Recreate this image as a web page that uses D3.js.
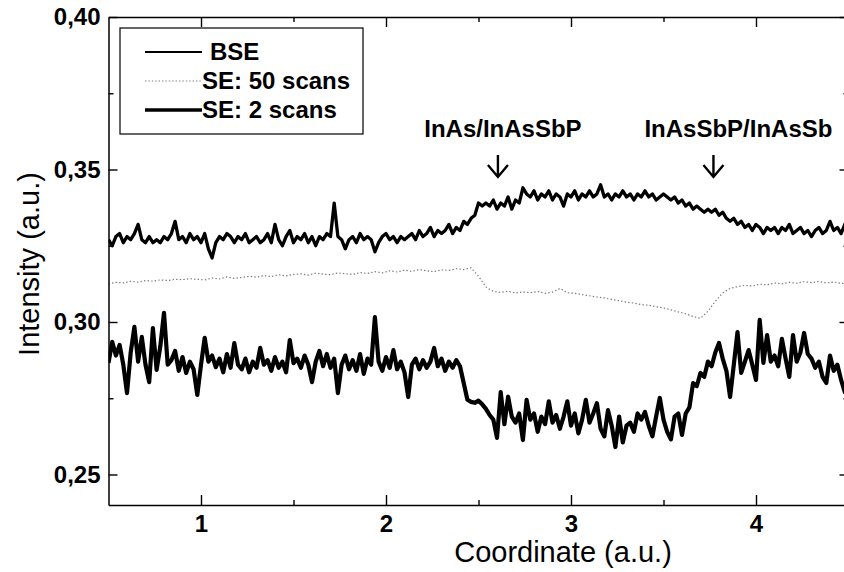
<!DOCTYPE html>
<html>
<head>
<meta charset="utf-8">
<script src="https://cdn.jsdelivr.net/npm/d3@7"></script>
<style>
  html, body { margin: 0; padding: 0; background: #fff; }
  svg { display: block; }
</style>
</head>
<body>
<svg id="chart" width="844" height="572"></svg>
<script>
// Line-scan profiles across the heterostructure (intensity vs coordinate)
// BSE and "SE: 2 scans" sampled every 0.02 a.u.; "SE: 50 scans" every 0.04 a.u.
const coordStart = 0.5;
const fineStep = 0.02;
const coarseStep = 0.04;

const bse = [
  0.327,0.325,0.328,0.329,0.326,0.328,0.327,0.329,0.332,0.327,0.326,
  0.328,0.326,0.327,0.326,0.328,0.327,0.329,0.333,0.327,0.328,
  0.326,0.329,0.327,0.328,0.326,0.329,0.324,0.321,0.326,0.328,
  0.327,0.329,0.328,0.326,0.328,0.327,0.329,0.326,0.327,0.328,
  0.326,0.327,0.329,0.326,0.332,0.327,0.325,0.328,0.330,0.326,
  0.328,0.327,0.329,0.326,0.328,0.325,0.328,0.327,0.329,0.328,
  0.339,0.328,0.327,0.324,0.327,0.328,0.326,0.329,0.327,0.328,
  0.327,0.323,0.326,0.328,0.329,0.327,0.328,0.326,0.328,0.327,
  0.328,0.329,0.327,0.330,0.328,0.329,0.331,0.328,0.330,0.329,
  0.330,0.332,0.329,0.331,0.330,0.333,0.332,0.334,0.335,0.339,
  0.338,0.339,0.338,0.340,0.337,0.339,0.338,0.341,0.337,0.340,
  0.339,0.344,0.342,0.341,0.343,0.340,0.342,0.341,0.343,0.340,
  0.342,0.341,0.338,0.342,0.341,0.343,0.340,0.342,0.341,0.343,
  0.341,0.342,0.345,0.341,0.342,0.340,0.342,0.341,0.343,0.341,
  0.342,0.340,0.342,0.341,0.343,0.341,0.342,0.340,0.341,0.342,
  0.341,0.340,0.341,0.339,0.340,0.338,0.339,0.337,0.338,0.337,
  0.336,0.337,0.336,0.337,0.335,0.336,0.334,0.333,0.334,0.332,
  0.333,0.331,0.332,0.330,0.332,0.331,0.329,0.331,0.330,0.331,
  0.329,0.331,0.330,0.332,0.329,0.330,0.331,0.329,0.330,0.328,
  0.330,0.331,0.329,0.330,0.333,0.330,0.331,0.329,0.332,0.331
];

const se50 = [
  0.3125,0.3130,0.3128,0.3133,0.3131,0.3136,0.3134,0.3138,0.3136,0.3140,
  0.3139,0.3142,0.3140,0.3138,0.3144,0.3141,0.3148,0.3143,0.3146,0.3150,
  0.3147,0.3152,0.3149,0.3155,0.3151,0.3156,0.3158,0.3154,0.3160,0.3157,
  0.3155,0.3161,0.3158,0.3156,0.3162,0.3159,0.3165,0.3161,0.3168,0.3164,
  0.3170,0.3166,0.3172,0.3168,0.3165,0.3171,0.3169,0.3175,0.3172,0.3178,
  0.3150,0.3115,0.3100,0.3097,0.3101,0.3095,0.3099,0.3096,0.3100,0.3094,
  0.3098,0.3110,0.3096,0.3094,0.3090,0.3086,0.3082,0.3079,0.3074,0.3070,
  0.3065,0.3062,0.3057,0.3055,0.3050,0.3046,0.3040,0.3033,0.3027,0.3018,
  0.3012,0.3035,0.3068,0.3095,0.3110,0.3116,0.3120,0.3118,0.3124,0.3122,
  0.3128,0.3125,0.3130,0.3127,0.3132,0.3129,0.3133,0.3128,0.3131,0.3127,0.3126
];

const se2 = [
  0.2866,0.2935,0.2890,0.2925,0.2860,0.2767,0.2900,0.2984,0.2870,0.2951,0.2860,
  0.2803,0.2980,0.2843,0.2920,0.3030,0.2860,0.2875,0.2905,0.2840,0.2885,
  0.2833,0.2870,0.2845,0.2761,0.2860,0.2948,0.2870,0.2890,0.2852,0.2880,
  0.2835,0.2895,0.2850,0.2931,0.2860,0.2845,0.2880,0.2835,0.2870,0.2850,
  0.2915,0.2860,0.2875,0.2840,0.2885,0.2850,0.2870,0.2835,0.2941,0.2865,
  0.2880,0.2850,0.2890,0.2860,0.2803,0.2870,0.2905,0.2855,0.2895,0.2850,
  0.2880,0.2767,0.2860,0.2890,0.2845,0.2875,0.2840,0.2895,0.2830,0.2880,
  0.2860,0.3016,0.2870,0.2840,0.2885,0.2850,0.2908,0.2845,0.2870,0.2835,
  0.2754,0.2860,0.2880,0.2845,0.2875,0.2850,0.2870,0.2915,0.2855,0.2880,
  0.2840,0.2870,0.2850,0.2875,0.2855,0.2800,0.2745,0.2738,0.2735,0.2742,
  0.2730,0.2715,0.2695,0.2680,0.2620,0.2770,0.2665,0.2755,0.2690,0.2670,
  0.2700,0.2613,0.2745,0.2680,0.2700,0.2640,0.2690,0.2665,0.2740,0.2670,
  0.2695,0.2650,0.2690,0.2740,0.2660,0.2700,0.2635,0.2680,0.2745,0.2670,
  0.2700,0.2734,0.2650,0.2625,0.2711,0.2660,0.2590,0.2690,0.2605,0.2660,
  0.2670,0.2640,0.2700,0.2680,0.2705,0.2660,0.2625,0.2690,0.2751,0.2680,
  0.2640,0.2615,0.2690,0.2700,0.2630,0.2700,0.2720,0.2800,0.2790,0.2833,
  0.2820,0.2870,0.2855,0.2900,0.2931,0.2880,0.2840,0.2754,0.2860,0.2967,
  0.2833,0.2870,0.2908,0.2860,0.2810,0.3007,0.2866,0.2957,0.2870,0.2890,
  0.2855,0.2945,0.2880,0.2820,0.2957,0.2870,0.2900,0.2964,0.2895,0.2880,
  0.2850,0.2870,0.2820,0.2800,0.2890,0.2840,0.2860,0.2810,0.2770,0.2800
];

const xTicks = [1, 2, 3, 4];
const xMinorTicks = [1, 1.5, 2, 2.5, 3, 3.5, 4];
const yTicks = [0.25, 0.30, 0.35, 0.40];
const yMinorTicks = [0.25, 0.275, 0.30, 0.325, 0.35, 0.375, 0.40];
const yTickLabels = ["0,25", "0,30", "0,35", "0,40"];
const legendLabels = ["BSE", "SE: 50 scans", "SE: 2 scans"];
const interfaceLabels = ["InAs/InAsSbP", "InAsSbP/InAsSb"];
const interfaceCoords = [2.605, 3.77];
const xTitle = "Coordinate (a.u.)";
const yTitle = "Intensity (a.u.)";

const svg = d3.select("#chart");
const W = 844, H = 572;
const frame = { left: 108.5, right: 848.5, top: 17, bottom: 505 };
const FONT = "'Liberation Sans', Arial, Helvetica, sans-serif";

const x = d3.scaleLinear().domain([0.5, 4.5]).range([frame.left, frame.right]);
const y = d3.scaleLinear().domain([0.24, 0.40]).range([frame.bottom, frame.top]);

svg.append("rect").attr("width", W).attr("height", H).attr("fill", "#fff");

// clip to the plotting frame
svg.append("defs").append("clipPath").attr("id", "plotClip")
  .append("rect").attr("x", frame.left).attr("y", frame.top)
  .attr("width", frame.right - frame.left).attr("height", frame.bottom - frame.top);

const plot = svg.append("g").attr("clip-path", "url(#plotClip)");

const lineFine = d3.line()
  .x((d, i) => x(coordStart + i * fineStep))
  .y(d => y(d));
const lineCoarse = d3.line()
  .x((d, i) => x(coordStart + i * coarseStep))
  .y(d => y(d));

plot.append("path").datum(se50).attr("d", lineCoarse)
  .attr("fill", "none").attr("stroke", "#7a7a7a")
  .attr("stroke-width", 1.2).attr("stroke-dasharray", "1.4,2.2");

plot.append("path").datum(bse).attr("d", lineFine)
  .attr("fill", "none").attr("stroke", "#000")
  .attr("stroke-width", 3.3).attr("stroke-linejoin", "round");

plot.append("path").datum(se2).attr("d", lineFine)
  .attr("fill", "none").attr("stroke", "#000")
  .attr("stroke-width", 4.2).attr("stroke-linejoin", "round");

// axes: ticks pointing inward on all four sides
function styleAxis(g) {
  g.selectAll("path.domain").attr("stroke", "#000").attr("stroke-width", 1.5);
  g.selectAll(".tick line").attr("stroke", "#000").attr("stroke-width", 1.4);
  g.selectAll("text").attr("fill", "#000")
    .style("font-family", FONT).style("font-weight", "bold").style("font-size", "24px");
}

// bottom: major ticks with labels
const gBottom = svg.append("g").attr("transform", `translate(0,${frame.bottom})`)
  .call(d3.axisBottom(x).tickValues(xTicks).tickSizeInner(-10).tickSizeOuter(0)
    .tickPadding(10).tickFormat(d3.format("d")));
styleAxis(gBottom);
// bottom minor ticks
const gBottomMinor = svg.append("g").attr("transform", `translate(0,${frame.bottom})`)
  .call(d3.axisBottom(x).tickValues(xMinorTicks.filter(v => !xTicks.includes(v)))
    .tickSizeInner(-5).tickSizeOuter(0).tickFormat(""));
styleAxis(gBottomMinor);
gBottomMinor.select("path.domain").remove();

// top
const gTop = svg.append("g").attr("transform", `translate(0,${frame.top})`)
  .call(d3.axisTop(x).tickValues(xMinorTicks).tickSizeInner(-10).tickSizeOuter(0).tickFormat(""));
styleAxis(gTop);
gTop.selectAll(".tick line").attr("y2", d => xTicks.includes(d) ? 10 : 5);

// left: major labelled ticks
const gLeft = svg.append("g").attr("transform", `translate(${frame.left},0)`)
  .call(d3.axisLeft(y).tickValues(yTicks).tickSizeInner(-9).tickSizeOuter(0)
    .tickPadding(8).tickFormat((d, i) => yTickLabels[i]));
styleAxis(gLeft);
const gLeftMinor = svg.append("g").attr("transform", `translate(${frame.left},0)`)
  .call(d3.axisLeft(y).tickValues(yMinorTicks.filter(v => !yTicks.includes(v)))
    .tickSizeInner(-5).tickSizeOuter(0).tickFormat(""));
styleAxis(gLeftMinor);
gLeftMinor.select("path.domain").remove();

// right
const gRight = svg.append("g").attr("transform", `translate(${frame.right},0)`)
  .call(d3.axisRight(y).tickValues(yMinorTicks).tickSizeInner(-9).tickSizeOuter(0).tickFormat(""));
styleAxis(gRight);
gRight.selectAll(".tick line").attr("x2", d => yTicks.includes(d) ? -9 : -5);

// axis titles
svg.append("text")
  .attr("x", 563).attr("y", 562)
  .attr("text-anchor", "middle")
  .style("font-family", FONT).style("font-size", "29px").attr("fill", "#000")
  .text(xTitle);

svg.append("text")
  .attr("transform", "translate(39,264) rotate(-90)")
  .attr("text-anchor", "middle")
  .style("font-family", FONT).style("font-size", "29px").attr("fill", "#000")
  .text(yTitle);

// legend
const legend = svg.append("g");
legend.append("rect")
  .attr("x", 120).attr("y", 28).attr("width", 243).attr("height", 106)
  .attr("fill", "#fff").attr("stroke", "#000").attr("stroke-width", 1.2);

const legendStyles = [
  { stroke: "#000", width: 2, dash: null, textX: 210 },
  { stroke: "#808080", width: 1.2, dash: "1.4,2", textX: 202 },
  { stroke: "#000", width: 3.6, dash: null, textX: 202 }
];
const legendRowY = [52, 81, 110];

legendLabels.forEach((label, i) => {
  const st = legendStyles[i];
  legend.append("line")
    .attr("x1", 145).attr("x2", 202)
    .attr("y1", legendRowY[i]).attr("y2", legendRowY[i])
    .attr("stroke", st.stroke).attr("stroke-width", st.width)
    .attr("stroke-dasharray", st.dash);
  legend.append("text")
    .attr("x", st.textX).attr("y", legendRowY[i]).attr("dy", "0.35em")
    .style("font-family", FONT).style("font-weight", "bold").style("font-size", "24px")
    .attr("fill", "#000")
    .text(label);
});

// interface markers
const labelOffsets = [5, 25];
interfaceLabels.forEach((label, i) => {
  const ax = x(interfaceCoords[i]);
  svg.append("text")
    .attr("x", ax + labelOffsets[i]).attr("y", 137)
    .attr("text-anchor", "middle")
    .style("font-family", FONT).style("font-weight", "bold").style("font-size", "24px")
    .attr("fill", "#000")
    .text(label);
  svg.append("path")
    .attr("d", `M${ax},155 L${ax},177 M${ax - 10},165 L${ax},177 L${ax + 10},165`)
    .attr("fill", "none").attr("stroke", "#000").attr("stroke-width", 2.4);
});
</script>
</body>
</html>
